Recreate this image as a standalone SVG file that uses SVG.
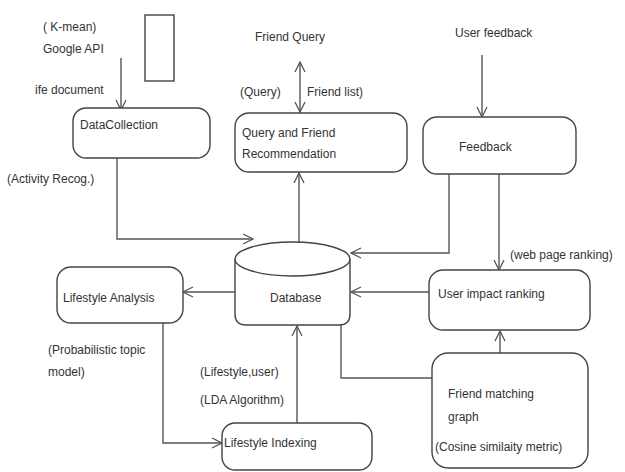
<svg xmlns="http://www.w3.org/2000/svg" width="625" height="472" viewBox="0 0 625 472">
<style>
.box{fill:#fff;stroke:#444;stroke-width:1.4}
.ln{fill:none;stroke:#555;stroke-width:1.4}
text{font-family:"Liberation Sans",Arial,sans-serif;font-size:12px;fill:#333}
</style>
<defs>
<marker id="ah" viewBox="0 0 12 12" refX="11" refY="6" markerWidth="12" markerHeight="12" markerUnits="userSpaceOnUse" orient="auto-start-reverse">
<path d="M1,1 L11,6 L1,11" fill="none" stroke="#555" stroke-width="1.3"/>
</marker>
</defs>
<rect width="625" height="472" fill="#fff"/>
<g id="legend-rect"><rect x="145" y="15" width="29" height="66" fill="#fff" stroke="#444" stroke-width="1.4"/></g>
<g id="connectors">
<path class="ln" d="M121,58 V110" marker-end="url(#ah)"/>
<path class="ln" d="M117,158 V239 H253" marker-end="url(#ah)"/>
<path class="ln" d="M299,242 V173" marker-end="url(#ah)"/>
<path class="ln" d="M300,62 V112" marker-start="url(#ah)" marker-end="url(#ah)"/>
<path class="ln" d="M482,55 V117" marker-end="url(#ah)"/>
<path class="ln" d="M449,174 V253 H351" marker-end="url(#ah)"/>
<path class="ln" d="M499,174 V270" marker-end="url(#ah)"/>
<path class="ln" d="M429,292 H351" marker-end="url(#ah)"/>
<path class="ln" d="M235,292 H183" marker-end="url(#ah)"/>
<path class="ln" d="M163,323 V443 H222" marker-end="url(#ah)"/>
<path class="ln" d="M297,423 V326" marker-end="url(#ah)"/>
<path class="ln" d="M341,325 V378 H432"/>
<path class="ln" d="M500,353 V331" marker-end="url(#ah)"/>
</g>
<g id="datacollection"><rect class="box" x="73" y="108" width="137" height="50" rx="13"/><text x="80" y="129">DataCollection</text></g>
<g id="query"><rect class="box" x="235" y="113" width="172" height="59" rx="14"/><text x="242" y="137">Query and Friend</text><text x="242" y="158">Recommendation</text></g>
<g id="feedback"><rect class="box" x="423" y="117" width="153" height="57" rx="14"/><text x="459" y="151">Feedback</text></g>
<g id="database">
<path class="box" d="M235,259 V314 Q235,325 246,325 H339 Q350,325 350,314 V259"/>
<ellipse class="box" cx="292.5" cy="259" rx="57.5" ry="17"/>
<text x="270" y="302">Database</text>
</g>
<g id="lifestyle-analysis"><rect class="box" x="57" y="267" width="126" height="56" rx="14"/><text x="63" y="302">Lifestyle Analysis</text></g>
<g id="user-impact"><rect class="box" x="429" y="270" width="161" height="60" rx="14"/><text x="438" y="298">User impact ranking</text></g>
<g id="friend-matching"><rect class="box" x="432" y="353" width="156" height="115" rx="16"/><text x="448" y="398">Friend matching</text><text x="448" y="421">graph</text><text x="435" y="451">(Cosine similaity metric)</text></g>
<g id="lifestyle-indexing"><rect class="box" x="222" y="423" width="150" height="47" rx="13"/><text x="224" y="447">Lifestyle Indexing</text></g>
<g id="labels">
<text x="43" y="31">( K-mean)</text>
<text x="43" y="53">Google API</text>
<text x="35" y="94">ife document</text>
<text x="7" y="183">(Activity Recog.)</text>
<text x="255" y="41">Friend Query</text>
<text x="240" y="96">(Query)</text>
<text x="307" y="96">Friend list)</text>
<text x="455" y="37">User feedback</text>
<text x="510" y="259">(web page ranking)</text>
<text x="48" y="354">(Probabilistic topic</text>
<text x="48" y="376">model)</text>
<text x="200" y="376">(Lifestyle,user)</text>
<text x="200" y="404">(LDA Algorithm)</text>
</g>
</svg>
